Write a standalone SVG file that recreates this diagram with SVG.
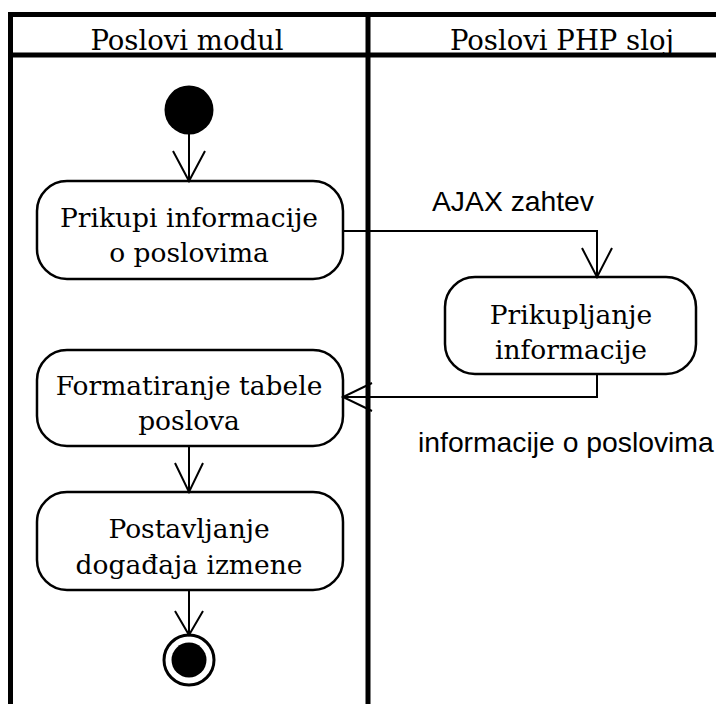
<svg xmlns="http://www.w3.org/2000/svg" width="716" height="704" viewBox="0 0 716 704">
<style>
.lane{stroke:#000;stroke-width:5;fill:none}
.box{fill:#fff;stroke:#000;stroke-width:2.5}
.t{font-family:"DejaVu Serif","Liberation Serif",serif;font-size:26.5px;fill:#000;text-anchor:middle}
.h{font-size:27.5px}
.s{font-family:"Liberation Sans",Arial,sans-serif;font-size:28.3px;fill:#000}
.c{stroke:#000;stroke-width:2;fill:none}
</style>
<rect width="716" height="704" fill="#fff"/>
<g id="lanes">
<path class="lane" d="M10.5 704 V14.5 H716 M368 14.5 V704 M10.5 55 H716"/>
<text class="t h" x="187" y="50">Poslovi modul</text>
<text class="t h" x="562" y="50">Poslovi PHP sloj</text>
</g>
<g id="start"><circle cx="189" cy="110" r="24.5" fill="#000"/></g>
<g id="a1">
<rect class="box" x="37" y="181" width="306" height="98" rx="30"/>
<text class="t" x="189" y="227">Prikupi informacije</text>
<text class="t" x="189" y="262">o poslovima</text>
</g>
<g id="a2">
<rect class="box" x="445" y="277" width="251" height="97" rx="30"/>
<text class="t" x="571" y="324">Prikupljanje</text>
<text class="t" x="571" y="359">informacije</text>
</g>
<g id="a3">
<rect class="box" x="37" y="350" width="306" height="96" rx="30"/>
<text class="t" x="189" y="395">Formatiranje tabele</text>
<text class="t" x="189" y="430">poslova</text>
</g>
<g id="a4">
<rect class="box" x="37" y="492" width="306" height="98" rx="30"/>
<text class="t" x="189" y="538">Postavljanje</text>
<text class="t" x="189" y="574">događaja izmene</text>
</g>
<g id="end">
<circle cx="189" cy="660" r="25" fill="#fff" stroke="#000" stroke-width="3"/>
<circle cx="189" cy="660" r="17.5" fill="#000"/>
</g>
<g id="connectors">
<path class="c" d="M189 134 V181 M173 151 L189 181 L205 151"/>
<path class="c" d="M343 231 H597 V277 M582 248 L597 277 L612 248"/>
<path class="c" d="M597 374 V397 H343 M372 383 L343 397 L372 411"/>
<path class="c" d="M189 446 V492 M175 463 L189 492 L203 463"/>
<path class="c" d="M189 590 V635 M175 611 L189 635 L203 611"/>
<text class="s" x="432" y="211">AJAX zahtev</text>
<text class="s" x="418" y="452">informacije o poslovima</text>
</g>
</svg>
